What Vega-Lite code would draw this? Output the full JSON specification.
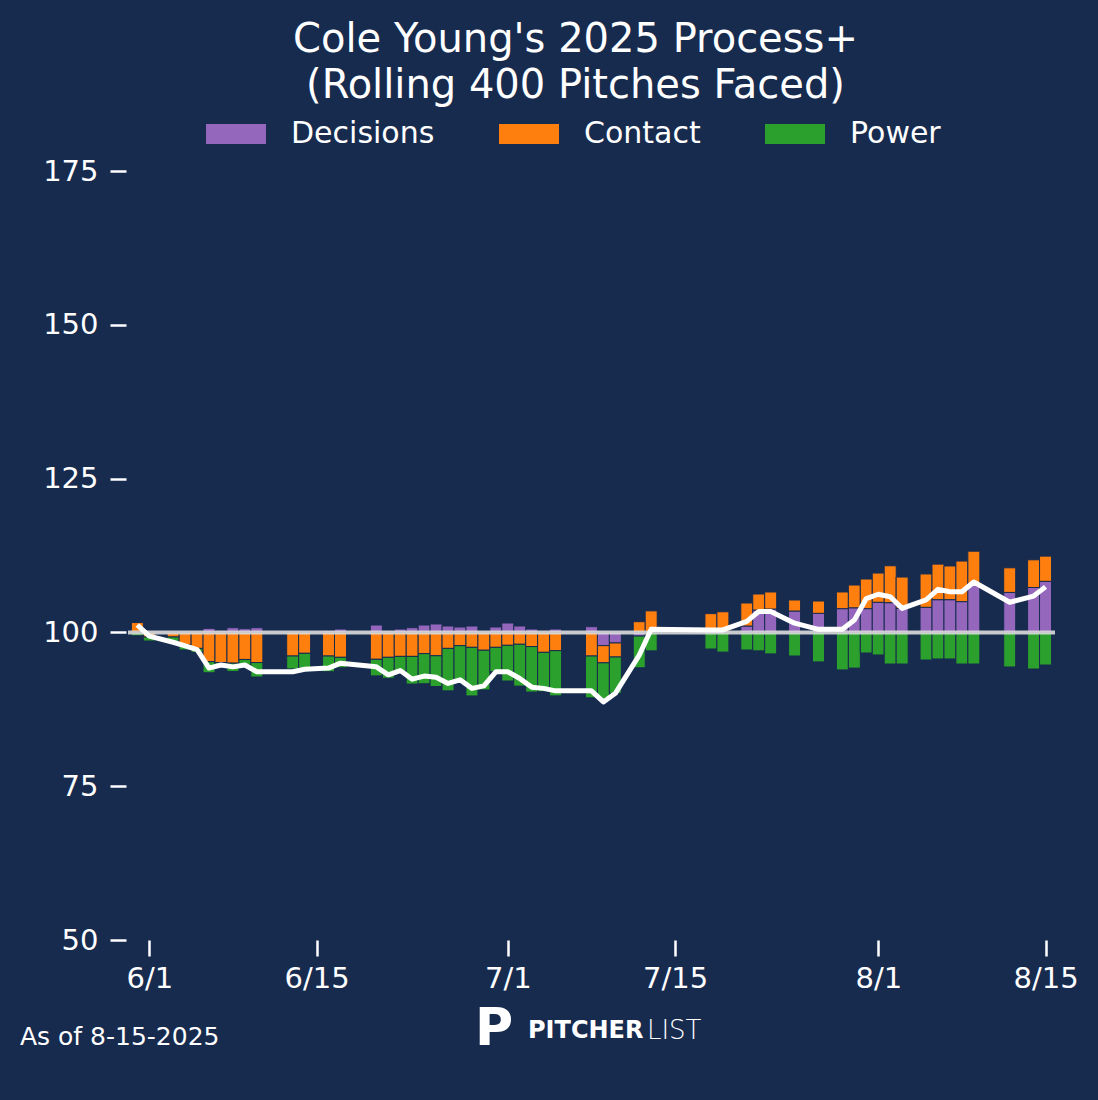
{
  "$schema": "https://vega.github.io/schema/vega-lite/v6.json",
  "width": 927,
  "height": 769,
  "autosize": {"type": "none"},
  "padding": {"left": 128, "top": 171, "right": 43, "bottom": 160},
  "background": "#172b4f",
  "title": {
    "text": ["Cole Young's 2025 Process+", "(Rolling 400 Pitches Faced)"],
    "anchor": "middle",
    "font": "DejaVu Sans",
    "fontSize": 40,
    "fontWeight": "normal",
    "color": "#ffffff",
    "lineHeight": 46,
    "dx": -16,
    "dy": 6
  },
  "datasets": {
    "bars": [
      {"date": "2025-05-31", "component": "Decisions", "order": 1, "value": 0.1},
      {"date": "2025-05-31", "component": "Contact", "order": 2, "value": 1.5},
      {"date": "2025-05-31", "component": "Power", "order": 3, "value": -0.55},
      {"date": "2025-06-01", "component": "Decisions", "order": 1, "value": 0.05},
      {"date": "2025-06-01", "component": "Contact", "order": 2, "value": -0.75},
      {"date": "2025-06-01", "component": "Power", "order": 3, "value": -0.65},
      {"date": "2025-06-03", "component": "Decisions", "order": 1, "value": 0.05},
      {"date": "2025-06-03", "component": "Contact", "order": 2, "value": -0.75},
      {"date": "2025-06-03", "component": "Power", "order": 3, "value": -0.7},
      {"date": "2025-06-04", "component": "Decisions", "order": 1, "value": 0.1},
      {"date": "2025-06-04", "component": "Contact", "order": 2, "value": -2.05},
      {"date": "2025-06-04", "component": "Power", "order": 3, "value": -0.8},
      {"date": "2025-06-05", "component": "Decisions", "order": 1, "value": 0.1},
      {"date": "2025-06-05", "component": "Contact", "order": 2, "value": -2.6},
      {"date": "2025-06-05", "component": "Power", "order": 3, "value": -0.65},
      {"date": "2025-06-06", "component": "Decisions", "order": 1, "value": 0.66},
      {"date": "2025-06-06", "component": "Contact", "order": 2, "value": -4.76},
      {"date": "2025-06-06", "component": "Power", "order": 3, "value": -1.8},
      {"date": "2025-06-07", "component": "Decisions", "order": 1, "value": 0.3},
      {"date": "2025-06-07", "component": "Contact", "order": 2, "value": -4.9},
      {"date": "2025-06-07", "component": "Power", "order": 3, "value": -0.4},
      {"date": "2025-06-08", "component": "Decisions", "order": 1, "value": 0.77},
      {"date": "2025-06-08", "component": "Contact", "order": 2, "value": -5.0},
      {"date": "2025-06-08", "component": "Power", "order": 3, "value": -1.35},
      {"date": "2025-06-09", "component": "Decisions", "order": 1, "value": 0.6},
      {"date": "2025-06-09", "component": "Contact", "order": 2, "value": -4.4},
      {"date": "2025-06-09", "component": "Power", "order": 3, "value": -0.9},
      {"date": "2025-06-10", "component": "Decisions", "order": 1, "value": 0.77},
      {"date": "2025-06-10", "component": "Contact", "order": 2, "value": -4.9},
      {"date": "2025-06-10", "component": "Power", "order": 3, "value": -2.35},
      {"date": "2025-06-13", "component": "Decisions", "order": 1, "value": 0.05},
      {"date": "2025-06-13", "component": "Contact", "order": 2, "value": -3.84},
      {"date": "2025-06-13", "component": "Power", "order": 3, "value": -2.1},
      {"date": "2025-06-14", "component": "Decisions", "order": 1, "value": 0.05},
      {"date": "2025-06-14", "component": "Contact", "order": 2, "value": -3.4},
      {"date": "2025-06-14", "component": "Power", "order": 3, "value": -2.4},
      {"date": "2025-06-16", "component": "Decisions", "order": 1, "value": 0.3},
      {"date": "2025-06-16", "component": "Contact", "order": 2, "value": -3.84},
      {"date": "2025-06-16", "component": "Power", "order": 3, "value": -2.55},
      {"date": "2025-06-17", "component": "Decisions", "order": 1, "value": 0.55},
      {"date": "2025-06-17", "component": "Contact", "order": 2, "value": -4.05},
      {"date": "2025-06-17", "component": "Power", "order": 3, "value": -1.7},
      {"date": "2025-06-20", "component": "Decisions", "order": 1, "value": 1.2},
      {"date": "2025-06-20", "component": "Contact", "order": 2, "value": -4.37},
      {"date": "2025-06-20", "component": "Power", "order": 3, "value": -2.7},
      {"date": "2025-06-21", "component": "Decisions", "order": 1, "value": 0.3},
      {"date": "2025-06-21", "component": "Contact", "order": 2, "value": -4.05},
      {"date": "2025-06-21", "component": "Power", "order": 3, "value": -3.4},
      {"date": "2025-06-22", "component": "Decisions", "order": 1, "value": 0.55},
      {"date": "2025-06-22", "component": "Contact", "order": 2, "value": -3.9},
      {"date": "2025-06-22", "component": "Power", "order": 3, "value": -2.5},
      {"date": "2025-06-23", "component": "Decisions", "order": 1, "value": 0.77},
      {"date": "2025-06-23", "component": "Contact", "order": 2, "value": -3.9},
      {"date": "2025-06-23", "component": "Power", "order": 3, "value": -4.5},
      {"date": "2025-06-24", "component": "Decisions", "order": 1, "value": 1.2},
      {"date": "2025-06-24", "component": "Contact", "order": 2, "value": -3.45},
      {"date": "2025-06-24", "component": "Power", "order": 3, "value": -4.9},
      {"date": "2025-06-25", "component": "Decisions", "order": 1, "value": 1.37},
      {"date": "2025-06-25", "component": "Contact", "order": 2, "value": -3.8},
      {"date": "2025-06-25", "component": "Power", "order": 3, "value": -5.0},
      {"date": "2025-06-26", "component": "Decisions", "order": 1, "value": 1.04},
      {"date": "2025-06-26", "component": "Contact", "order": 2, "value": -2.6},
      {"date": "2025-06-26", "component": "Power", "order": 3, "value": -6.9},
      {"date": "2025-06-27", "component": "Decisions", "order": 1, "value": 0.88},
      {"date": "2025-06-27", "component": "Contact", "order": 2, "value": -2.15},
      {"date": "2025-06-27", "component": "Power", "order": 3, "value": -6.05},
      {"date": "2025-06-28", "component": "Decisions", "order": 1, "value": 1.04},
      {"date": "2025-06-28", "component": "Contact", "order": 2, "value": -2.43},
      {"date": "2025-06-28", "component": "Power", "order": 3, "value": -7.9},
      {"date": "2025-06-29", "component": "Decisions", "order": 1, "value": 0.15},
      {"date": "2025-06-29", "component": "Contact", "order": 2, "value": -2.9},
      {"date": "2025-06-29", "component": "Power", "order": 3, "value": -6.45},
      {"date": "2025-06-30", "component": "Decisions", "order": 1, "value": 0.88},
      {"date": "2025-06-30", "component": "Contact", "order": 2, "value": -2.43},
      {"date": "2025-06-30", "component": "Power", "order": 3, "value": -3.97},
      {"date": "2025-07-01", "component": "Decisions", "order": 1, "value": 1.53},
      {"date": "2025-07-01", "component": "Contact", "order": 2, "value": -2.1},
      {"date": "2025-07-01", "component": "Power", "order": 3, "value": -5.8},
      {"date": "2025-07-02", "component": "Decisions", "order": 1, "value": 1.04},
      {"date": "2025-07-02", "component": "Contact", "order": 2, "value": -1.93},
      {"date": "2025-07-02", "component": "Power", "order": 3, "value": -6.8},
      {"date": "2025-07-03", "component": "Decisions", "order": 1, "value": 0.55},
      {"date": "2025-07-03", "component": "Contact", "order": 2, "value": -2.3},
      {"date": "2025-07-03", "component": "Power", "order": 3, "value": -7.4},
      {"date": "2025-07-04", "component": "Decisions", "order": 1, "value": 0.1},
      {"date": "2025-07-04", "component": "Contact", "order": 2, "value": -3.24},
      {"date": "2025-07-04", "component": "Power", "order": 3, "value": -6.4},
      {"date": "2025-07-05", "component": "Decisions", "order": 1, "value": 0.55},
      {"date": "2025-07-05", "component": "Contact", "order": 2, "value": -2.97},
      {"date": "2025-07-05", "component": "Power", "order": 3, "value": -7.35},
      {"date": "2025-07-08", "component": "Decisions", "order": 1, "value": 0.93},
      {"date": "2025-07-08", "component": "Contact", "order": 2, "value": -3.84},
      {"date": "2025-07-08", "component": "Power", "order": 3, "value": -6.8},
      {"date": "2025-07-09", "component": "Decisions", "order": 1, "value": -2.15},
      {"date": "2025-07-09", "component": "Contact", "order": 2, "value": -2.8},
      {"date": "2025-07-09", "component": "Power", "order": 3, "value": -6.0},
      {"date": "2025-07-10", "component": "Decisions", "order": 1, "value": -1.72},
      {"date": "2025-07-10", "component": "Contact", "order": 2, "value": -2.28},
      {"date": "2025-07-10", "component": "Power", "order": 3, "value": -5.9},
      {"date": "2025-07-12", "component": "Decisions", "order": 1, "value": -0.6},
      {"date": "2025-07-12", "component": "Contact", "order": 2, "value": 1.74},
      {"date": "2025-07-12", "component": "Power", "order": 3, "value": -5.15},
      {"date": "2025-07-13", "component": "Decisions", "order": 1, "value": 0.05},
      {"date": "2025-07-13", "component": "Contact", "order": 2, "value": 3.45},
      {"date": "2025-07-13", "component": "Power", "order": 3, "value": -3.0},
      {"date": "2025-07-18", "component": "Decisions", "order": 1, "value": 0.05},
      {"date": "2025-07-18", "component": "Contact", "order": 2, "value": 3.0},
      {"date": "2025-07-18", "component": "Power", "order": 3, "value": -2.7},
      {"date": "2025-07-19", "component": "Decisions", "order": 1, "value": 0.05},
      {"date": "2025-07-19", "component": "Contact", "order": 2, "value": 3.3},
      {"date": "2025-07-19", "component": "Power", "order": 3, "value": -3.2},
      {"date": "2025-07-21", "component": "Decisions", "order": 1, "value": 1.04},
      {"date": "2025-07-21", "component": "Contact", "order": 2, "value": 3.74},
      {"date": "2025-07-21", "component": "Power", "order": 3, "value": -2.86},
      {"date": "2025-07-22", "component": "Decisions", "order": 1, "value": 3.64},
      {"date": "2025-07-22", "component": "Contact", "order": 2, "value": 2.6},
      {"date": "2025-07-22", "component": "Power", "order": 3, "value": -3.0},
      {"date": "2025-07-23", "component": "Decisions", "order": 1, "value": 3.8},
      {"date": "2025-07-23", "component": "Contact", "order": 2, "value": 2.77},
      {"date": "2025-07-23", "component": "Power", "order": 3, "value": -3.5},
      {"date": "2025-07-25", "component": "Decisions", "order": 1, "value": 3.48},
      {"date": "2025-07-25", "component": "Contact", "order": 2, "value": 1.79},
      {"date": "2025-07-25", "component": "Power", "order": 3, "value": -3.84},
      {"date": "2025-07-27", "component": "Decisions", "order": 1, "value": 3.1},
      {"date": "2025-07-27", "component": "Contact", "order": 2, "value": 2.0},
      {"date": "2025-07-27", "component": "Power", "order": 3, "value": -4.8},
      {"date": "2025-07-29", "component": "Decisions", "order": 1, "value": 3.86},
      {"date": "2025-07-29", "component": "Contact", "order": 2, "value": 2.71},
      {"date": "2025-07-29", "component": "Power", "order": 3, "value": -6.1},
      {"date": "2025-07-30", "component": "Decisions", "order": 1, "value": 4.0},
      {"date": "2025-07-30", "component": "Contact", "order": 2, "value": 3.7},
      {"date": "2025-07-30", "component": "Power", "order": 3, "value": -5.8},
      {"date": "2025-07-31", "component": "Decisions", "order": 1, "value": 3.86},
      {"date": "2025-07-31", "component": "Contact", "order": 2, "value": 4.82},
      {"date": "2025-07-31", "component": "Power", "order": 3, "value": -3.35},
      {"date": "2025-08-01", "component": "Decisions", "order": 1, "value": 4.9},
      {"date": "2025-08-01", "component": "Contact", "order": 2, "value": 4.75},
      {"date": "2025-08-01", "component": "Power", "order": 3, "value": -3.67},
      {"date": "2025-08-02", "component": "Decisions", "order": 1, "value": 4.83},
      {"date": "2025-08-02", "component": "Contact", "order": 2, "value": 6.0},
      {"date": "2025-08-02", "component": "Power", "order": 3, "value": -5.14},
      {"date": "2025-08-03", "component": "Decisions", "order": 1, "value": 3.9},
      {"date": "2025-08-03", "component": "Contact", "order": 2, "value": 5.1},
      {"date": "2025-08-03", "component": "Power", "order": 3, "value": -5.14},
      {"date": "2025-08-05", "component": "Decisions", "order": 1, "value": 4.08},
      {"date": "2025-08-05", "component": "Contact", "order": 2, "value": 5.42},
      {"date": "2025-08-05", "component": "Power", "order": 3, "value": -4.49},
      {"date": "2025-08-06", "component": "Decisions", "order": 1, "value": 5.32},
      {"date": "2025-08-06", "component": "Contact", "order": 2, "value": 5.78},
      {"date": "2025-08-06", "component": "Power", "order": 3, "value": -4.32},
      {"date": "2025-08-07", "component": "Decisions", "order": 1, "value": 5.32},
      {"date": "2025-08-07", "component": "Contact", "order": 2, "value": 5.48},
      {"date": "2025-08-07", "component": "Power", "order": 3, "value": -4.32},
      {"date": "2025-08-08", "component": "Decisions", "order": 1, "value": 5.0},
      {"date": "2025-08-08", "component": "Contact", "order": 2, "value": 6.6},
      {"date": "2025-08-08", "component": "Power", "order": 3, "value": -5.14},
      {"date": "2025-08-09", "component": "Decisions", "order": 1, "value": 7.7},
      {"date": "2025-08-09", "component": "Contact", "order": 2, "value": 5.5},
      {"date": "2025-08-09", "component": "Power", "order": 3, "value": -5.14},
      {"date": "2025-08-12", "component": "Decisions", "order": 1, "value": 6.5},
      {"date": "2025-08-12", "component": "Contact", "order": 2, "value": 4.0},
      {"date": "2025-08-12", "component": "Power", "order": 3, "value": -5.62},
      {"date": "2025-08-14", "component": "Decisions", "order": 1, "value": 7.3},
      {"date": "2025-08-14", "component": "Contact", "order": 2, "value": 4.5},
      {"date": "2025-08-14", "component": "Power", "order": 3, "value": -5.95},
      {"date": "2025-08-15", "component": "Decisions", "order": 1, "value": 8.3},
      {"date": "2025-08-15", "component": "Contact", "order": 2, "value": 4.1},
      {"date": "2025-08-15", "component": "Power", "order": 3, "value": -5.3}
    ],
    "process": [
      {"date": "2025-05-31", "process_plus": 101.2},
      {"date": "2025-06-01", "process_plus": 99.4},
      {"date": "2025-06-03", "process_plus": 98.4},
      {"date": "2025-06-04", "process_plus": 97.8},
      {"date": "2025-06-05", "process_plus": 97.2},
      {"date": "2025-06-06", "process_plus": 94.2},
      {"date": "2025-06-07", "process_plus": 94.7},
      {"date": "2025-06-08", "process_plus": 94.4},
      {"date": "2025-06-09", "process_plus": 94.7},
      {"date": "2025-06-10", "process_plus": 93.6},
      {"date": "2025-06-13", "process_plus": 93.6},
      {"date": "2025-06-14", "process_plus": 94.0},
      {"date": "2025-06-16", "process_plus": 94.2},
      {"date": "2025-06-17", "process_plus": 95.0},
      {"date": "2025-06-20", "process_plus": 94.4},
      {"date": "2025-06-21", "process_plus": 93.1},
      {"date": "2025-06-22", "process_plus": 93.8},
      {"date": "2025-06-23", "process_plus": 92.4},
      {"date": "2025-06-24", "process_plus": 92.9},
      {"date": "2025-06-25", "process_plus": 92.7},
      {"date": "2025-06-26", "process_plus": 91.7},
      {"date": "2025-06-27", "process_plus": 92.3},
      {"date": "2025-06-28", "process_plus": 90.9},
      {"date": "2025-06-29", "process_plus": 91.3},
      {"date": "2025-06-30", "process_plus": 93.6},
      {"date": "2025-07-01", "process_plus": 93.6},
      {"date": "2025-07-02", "process_plus": 92.5},
      {"date": "2025-07-03", "process_plus": 91.1},
      {"date": "2025-07-04", "process_plus": 90.9},
      {"date": "2025-07-05", "process_plus": 90.5},
      {"date": "2025-07-08", "process_plus": 90.5},
      {"date": "2025-07-09", "process_plus": 88.7},
      {"date": "2025-07-10", "process_plus": 90.1},
      {"date": "2025-07-12", "process_plus": 96.3},
      {"date": "2025-07-13", "process_plus": 100.5},
      {"date": "2025-07-18", "process_plus": 100.4},
      {"date": "2025-07-19", "process_plus": 100.4},
      {"date": "2025-07-21", "process_plus": 101.8},
      {"date": "2025-07-22", "process_plus": 103.4},
      {"date": "2025-07-23", "process_plus": 103.4},
      {"date": "2025-07-25", "process_plus": 101.5},
      {"date": "2025-07-27", "process_plus": 100.5},
      {"date": "2025-07-29", "process_plus": 100.5},
      {"date": "2025-07-30", "process_plus": 102.0},
      {"date": "2025-07-31", "process_plus": 105.5},
      {"date": "2025-08-01", "process_plus": 106.2},
      {"date": "2025-08-02", "process_plus": 105.8},
      {"date": "2025-08-03", "process_plus": 103.9},
      {"date": "2025-08-05", "process_plus": 105.3},
      {"date": "2025-08-06", "process_plus": 107.0},
      {"date": "2025-08-07", "process_plus": 106.6},
      {"date": "2025-08-08", "process_plus": 106.6},
      {"date": "2025-08-09", "process_plus": 108.2},
      {"date": "2025-08-12", "process_plus": 104.9},
      {"date": "2025-08-14", "process_plus": 105.9},
      {"date": "2025-08-15", "process_plus": 107.4}
    ]
  },
  "layer": [
    {
      "data": {"name": "bars"},
      "mark": {"type": "bar", "size": 12, "stroke": "#172b4f", "strokeWidth": 1},
      "encoding": {
        "x": {
          "field": "date",
          "type": "temporal",
          "title": null,
          "scale": {
            "type": "utc",
            "padding": 0,
            "domain": [
              {"year": 2025, "month": 5, "date": 30, "hours": 5, "minutes": 14, "utc": true},
              {"year": 2025, "month": 8, "date": 15, "hours": 18, "minutes": 58, "utc": true}
            ]
          },
          "axis": {
            "values": [
              {"year": 2025, "month": 6, "date": 1, "utc": true},
              {"year": 2025, "month": 6, "date": 15, "utc": true},
              {"year": 2025, "month": 7, "date": 1, "utc": true},
              {"year": 2025, "month": 7, "date": 15, "utc": true},
              {"year": 2025, "month": 8, "date": 1, "utc": true},
              {"year": 2025, "month": 8, "date": 15, "utc": true}
            ],
            "format": "%-m/%-d",
            "domain": false,
            "grid": false,
            "tickSize": 16,
            "tickWidth": 2.5,
            "tickColor": "#ffffff",
            "labelColor": "#ffffff",
            "labelFont": "DejaVu Sans",
            "labelFontSize": 29,
            "labelPadding": 8,
            "labelFlush": false,
            "labelOverlap": false
          }
        },
        "y": {
          "field": "value",
          "type": "quantitative",
          "stack": "zero",
          "title": null,
          "scale": {"domain": [-50, 75], "nice": false, "zero": false},
          "axis": null
        },
        "color": {
          "field": "component",
          "type": "nominal",
          "scale": {
            "domain": ["Decisions", "Contact", "Power"],
            "range": ["#9467bd", "#ff7f0e", "#2ca02c"]
          },
          "legend": {
            "orient": "none",
            "legendX": 78,
            "legendY": -67,
            "direction": "horizontal",
            "title": null,
            "padding": 0,
            "symbolType": "M-1,-0.333L1,-0.333L1,0.333L-1,0.333Z",
            "symbolSize": 3600,
            "symbolStrokeWidth": 0,
            "symbolOpacity": 1,
            "labelFont": "DejaVu Sans",
            "labelFontSize": 30,
            "labelColor": "#ffffff",
            "labelOffset": 25,
            "labelLimit": 400,
            "columnPadding": 64
          }
        },
        "order": {"field": "order", "type": "quantitative"}
      }
    },
    {
      "layer": [
        {
          "data": {"values": [{}]},
          "mark": {"type": "rule", "color": "#dcdcdc", "strokeWidth": 4, "opacity": 0.9},
          "encoding": {"y": {"datum": 100, "type": "quantitative", "title": null}}
        },
        {
          "data": {"name": "process"},
          "mark": {"type": "line", "color": "#ffffff", "strokeWidth": 5, "strokeJoin": "round"},
          "encoding": {
            "x": {"field": "date", "type": "temporal", "title": null},
            "y": {
              "field": "process_plus",
              "type": "quantitative",
              "title": null,
              "scale": {"domain": [50, 175], "nice": false, "zero": false},
              "axis": {
                "values": [50, 75, 100, 125, 150, 175],
                "domain": false,
                "grid": false,
                "offset": 2,
                "tickSize": 16,
                "tickWidth": 2.5,
                "tickColor": "#ffffff",
                "labelColor": "#ffffff",
                "labelFont": "DejaVu Sans",
                "labelFontSize": 29,
                "labelPadding": 12,
                "labelFlush": false,
                "labelOverlap": false
              }
            }
          }
        },
        {
          "data": {"values": [{}]},
          "mark": {"type": "text", "text": "As of 8-15-2025", "font": "DejaVu Sans", "fontSize": 25, "color": "#ffffff", "align": "left", "baseline": "middle"},
          "encoding": {
            "x": {"datum": {"year": 2025, "month": 5, "date": 21, "hours": 4, "minutes": 19, "utc": true}, "type": "temporal", "title": null},
            "y": {"datum": 34.2, "type": "quantitative", "title": null}
          }
        },
        {
          "data": {"values": [{}]},
          "mark": {"type": "text", "text": "P", "font": "DejaVu Sans", "fontSize": 52, "fontWeight": "bold", "color": "#ffffff", "align": "center", "baseline": "middle"},
          "encoding": {
            "x": {"datum": {"year": 2025, "month": 6, "date": 29, "hours": 20, "minutes": 24, "utc": true}, "type": "temporal", "title": null},
            "y": {"datum": 35.5, "type": "quantitative", "title": null}
          }
        },
        {
          "data": {"values": [{}]},
          "mark": {"type": "text", "text": "PITCHER", "font": "DejaVu Sans", "fontSize": 24, "fontWeight": "bold", "color": "#ffffff", "align": "left", "baseline": "middle"},
          "encoding": {
            "x": {"datum": {"year": 2025, "month": 7, "date": 2, "hours": 16, "minutes": 34, "utc": true}, "type": "temporal", "title": null},
            "y": {"datum": 35.2, "type": "quantitative", "title": null}
          }
        },
        {
          "data": {"values": [{}]},
          "mark": {"type": "text", "text": "LIST", "font": "DejaVu Sans", "fontSize": 26, "fontWeight": 200, "color": "#ffffff", "align": "left", "baseline": "middle"},
          "encoding": {
            "x": {"datum": {"year": 2025, "month": 7, "date": 12, "hours": 15, "minutes": 24, "utc": true}, "type": "temporal", "title": null},
            "y": {"datum": 35.2, "type": "quantitative", "title": null}
          }
        }
      ]
    }
  ],
  "resolve": {"scale": {"y": "independent"}},
  "config": {
    "view": {"stroke": null},
    "font": "DejaVu Sans"
  }
}
